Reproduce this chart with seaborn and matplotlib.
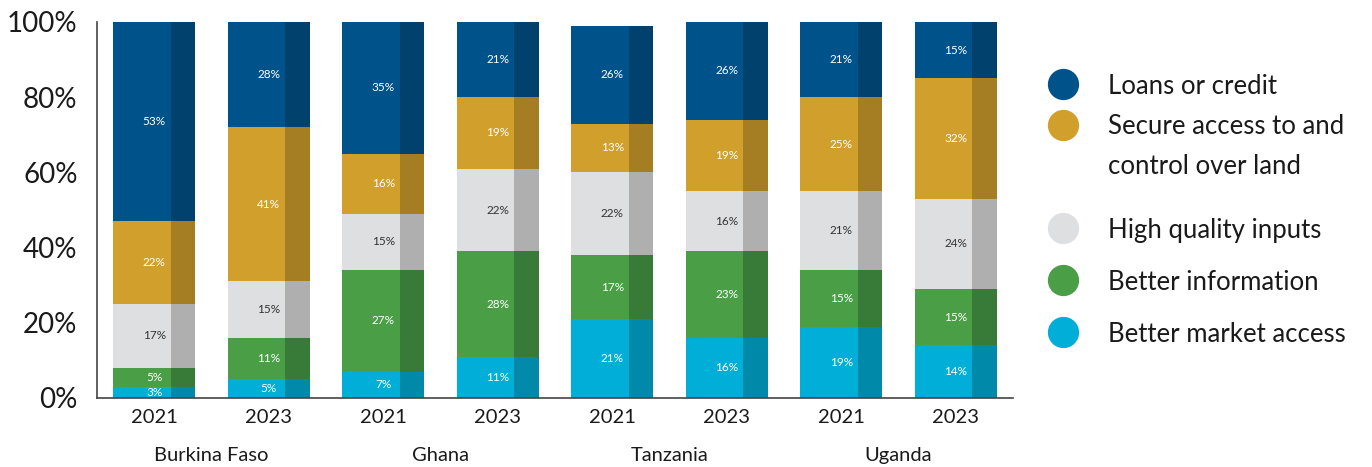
import numpy as np
import pandas as pd
import matplotlib.pyplot as plt
import seaborn as sns
from matplotlib.lines import Line2D

countries = ["Burkina Faso", "Ghana", "Tanzania", "Uganda"]
years = ["2021", "2023", "2021", "2023", "2021", "2023", "2021", "2023"]

# bottom -> top
categories = ["Better market access", "Better information", "High quality inputs",
              "Secure access to and\ncontrol over land", "Loans or credit"]
market = [3, 5, 7, 11, 21, 16, 19, 14]
information = [5, 11, 27, 28, 17, 23, 15, 15]
inputs = [17, 15, 15, 22, 22, 16, 21, 24]
land = [22, 41, 16, 19, 13, 19, 25, 32]
loans = [53, 28, 35, 21, 26, 26, 21, 15]

light = ["#00AED8", "#4A9E46", "#DEDFE0", "#D1A02C", "#00528A"]
dark = ["#0089A9", "#387A37", "#AEAFAE", "#A57D22", "#00416E"]
text_col = ["white", "white", "#333333", "white", "white"]

sns.set_theme(style="white")
plt.rcParams["font.family"] = ["Lato", "DejaVu Sans"]

fig = plt.figure(figsize=(13.72, 4.67), dpi=100)
ax = fig.add_axes([97 / 1372, 1 - 398 / 467, (1013 - 97) / 1372, (398 - 22) / 467])

df = pd.DataFrame({"pos": np.arange(8), categories[0]: market, categories[1]: information,
                   categories[2]: inputs, categories[3]: land, categories[4]: loans})

width = 0.72
bottom = np.zeros(8)
for cat, c1, c2, tc in zip(categories, light, dark, text_col):
    vals = df[cat].to_numpy(dtype=float)
    sns.barplot(data=df, x="pos", y=cat, color=c1, width=width, bottom=bottom,
                saturation=1, ax=ax, linewidth=0, order=list(range(8)))
    # darker right-hand strip of each bar
    ax.bar(df["pos"] + width / 2 - 0.3 * width, vals, width=0.3 * width, bottom=bottom,
           color=c2, align="edge", linewidth=0)
    for i, v in enumerate(vals):
        ax.text(i, min(bottom[i] + v / 2, (bottom[i] + 100) / 2), f"{v:.0f}%",
                ha="center", va="center", fontsize=8.5, color=tc)
    bottom += vals

ax.set_xlim(-0.5, 7.5)
ax.set_ylim(0, 100)
ax.set_xlabel("")
ax.set_ylabel("")
ax.set_yticks([0, 20, 40, 60, 80, 100])
ax.set_yticklabels([f"{t}%" for t in [0, 20, 40, 60, 80, 100]], fontsize=20, color="#1a1a1a")
ax.set_xticks(range(8))
ax.set_xticklabels(years, fontsize=14.5, color="#1a1a1a")
ax.set_xticks(np.arange(-0.5, 8, 1), minor=True)
ax.tick_params(axis="x", which="major", length=0, pad=8)
ax.tick_params(axis="x", which="minor", direction="in", length=6, width=1.2, color="#444444")
ax.tick_params(axis="y", direction="in", length=6, width=1.2, color="#444444", pad=14)
for s in ["top", "right"]:
    ax.spines[s].set_visible(False)
for s in ["left", "bottom"]:
    ax.spines[s].set_color("#444444")
    ax.spines[s].set_linewidth(1.2)
ax.grid(False)

for k, name in enumerate(countries):
    ax.text(2 * k + 0.5, -0.152, name, transform=ax.get_xaxis_transform(),
            ha="center", va="center", fontsize=14.5, color="#1a1a1a")

# legend, top to bottom
leg_y = [84, 125, 228, 280, 332]
for cat, col, y in zip(categories[::-1], light[::-1], leg_y):
    fy = 1 - y / 467
    fig.add_artist(Line2D([1063 / 1372], [fy], marker="o", markersize=21.5,
                          color=col, linestyle="none", transform=fig.transFigure))
    if "\n" in cat:
        fig.text(1108 / 1372, fy + 11 / 467, cat, ha="left", va="top",
                 fontsize=18.5, color="#1a1a1a", linespacing=1.75)
    else:
        fig.text(1108 / 1372, fy - 2 / 467, cat, ha="left", va="center",
                 fontsize=18.5, color="#1a1a1a")

fig.savefig("out.png", dpi=100)
